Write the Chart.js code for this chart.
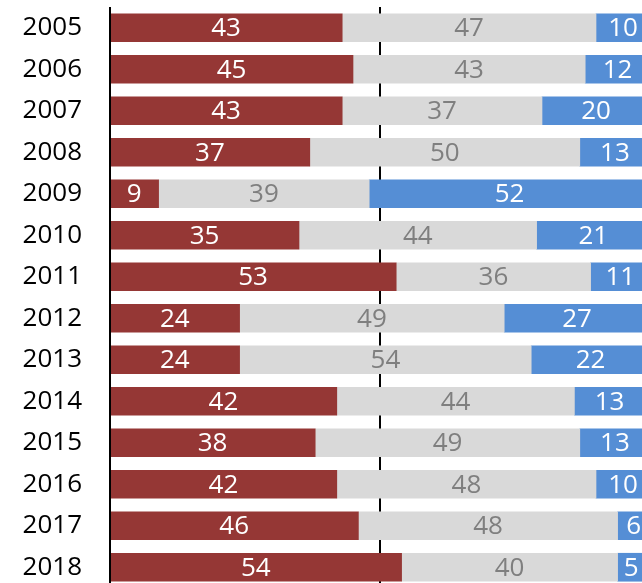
<!DOCTYPE html>
<html>
<head>
<meta charset="utf-8">
<script src="https://cdn.jsdelivr.net/npm/chart.js@4"></script>
<style>
  html, body { margin: 0; padding: 0; background: #fff; overflow: hidden; }
  #wrap { width: 642px; height: 583px; overflow: hidden; }
</style>
</head>
<body>
<div id="wrap"><canvas id="myChart" width="660" height="592"></canvas></div>
<script>
"use strict";

const years = ["2005", "2006", "2007", "2008", "2009", "2010", "2011",
  "2012", "2013", "2014", "2015", "2016", "2017", "2018"];
const redValues = [43, 45, 43, 37, 9, 35, 53, 24, 24, 42, 38, 42, 46, 54];
const grayValues = [47, 43, 37, 50, 39, 44, 36, 49, 54, 44, 49, 48, 48, 40];
const blueValues = [10, 12, 20, 13, 52, 21, 11, 27, 22, 13, 13, 10, 6, 5];
const midLine = 50;

const fontFamily = "'Open Sans', 'Liberation Sans', sans-serif";

// line at 50 sits behind the bars, axis line at 0 on top
const linesPlugin = {
  id: "lines",
  beforeDatasetsDraw(chart) {
    const ctx = chart.ctx;
    const area = chart.chartArea;
    const x = chart.scales.x;
    ctx.save();
    ctx.strokeStyle = "#000";
    ctx.lineWidth = 2;
    ctx.beginPath();
    ctx.moveTo(Math.round(x.getPixelForValue(midLine)), area.top);
    ctx.lineTo(Math.round(x.getPixelForValue(midLine)), area.bottom);
    ctx.stroke();
    ctx.restore();
  },
  afterDatasetsDraw(chart) {
    const ctx = chart.ctx;
    const area = chart.chartArea;
    const x = chart.scales.x;
    ctx.save();
    ctx.strokeStyle = "#000";
    ctx.lineWidth = 2;
    ctx.beginPath();
    ctx.moveTo(x.getPixelForValue(0), area.top);
    ctx.lineTo(x.getPixelForValue(0), area.bottom);
    ctx.stroke();
    ctx.restore();
  }
};

// value labels centred in each segment
const labelPlugin = {
  id: "labels",
  afterDatasetsDraw(chart) {
    const ctx = chart.ctx;
    ctx.save();
    ctx.font = "26px " + fontFamily;
    ctx.textAlign = "center";
    ctx.textBaseline = "middle";
    chart.data.datasets.forEach((ds, i) => {
      const meta = chart.getDatasetMeta(i);
      meta.data.forEach((bar, j) => {
        const p = bar.getProps(["x", "y", "base"], true);
        ctx.fillStyle = ds.labelColor;
        ctx.fillText(String(ds.data[j]), (p.x + p.base) / 2, p.y + 1);
      });
    });
    ctx.restore();
  }
};

const data = {
  labels: years,
  datasets: [
    { data: redValues, backgroundColor: "#953735", labelColor: "#ffffff" },
    { data: grayValues, backgroundColor: "#d9d9d9", labelColor: "#7f7f7f" },
    { data: blueValues, backgroundColor: "#558ed5", labelColor: "#ffffff" }
  ]
};

const config = {
  type: "bar",
  data: data,
  options: {
    indexAxis: "y",
    responsive: false,
    animation: false,
    devicePixelRatio: 1,
    barThickness: 28,
    layout: { padding: { top: 7, right: 10, bottom: 4, left: 0 } },
    plugins: {
      legend: { display: false },
      tooltip: { enabled: false }
    },
    scales: {
      x: {
        stacked: true,
        min: 0,
        max: 100,
        display: false
      },
      y: {
        stacked: true,
        border: { display: false },
        grid: { display: false, drawTicks: false },
        ticks: {
          color: "#000",
          padding: 28,
          font: { size: 26, family: fontFamily }
        },
        afterFit(scale) {
          scale.width = 110;
          scale.paddingTop = 0;
          scale.paddingBottom = 0;
        }
      }
    }
  },
  plugins: [linesPlugin, labelPlugin]
};

const myChart = new Chart(document.getElementById("myChart"), config);
</script>
</body>
</html>
